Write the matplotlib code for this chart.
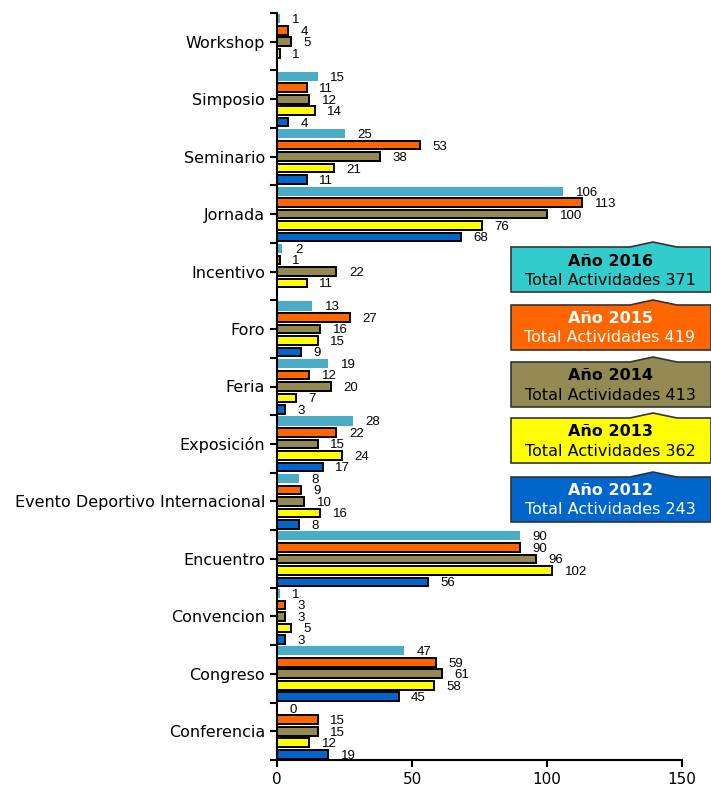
import matplotlib.pyplot as plt
import numpy as np
from matplotlib.patches import Polygon

# categorias de arriba hacia abajo
categorias = ['Workshop', 'Simposio', 'Seminario', 'Jornada', 'Incentivo', 'Foro',
              'Feria', 'Exposición', 'Evento Deportivo Internacional', 'Encuentro',
              'Convencion', 'Congreso', 'Conferencia']

anios = ['2016', '2015', '2014', '2013', '2012']
nan = np.nan
v2016 = [1, 15, 25, 106, 2, 13, 19, 28, 8, 90, 1, 47, 0]
v2015 = [4, 11, 53, 113, 1, 27, 12, 22, 9, 90, 3, 59, 15]
v2014 = [5, 12, 38, 100, 22, 16, 20, 15, 10, 96, 3, 61, 15]
v2013 = [1, 14, 21, 76, 11, 15, 7, 24, 16, 102, 5, 58, 12]
v2012 = [nan, 4, 11, 68, nan, 9, 3, 17, 8, 56, 3, 45, 19]
totales = [371, 419, 413, 362, 243]

colores = ['#4BACC6', '#FF6600', '#938953', '#FFFF00', '#0066CC']
colores_caja = ['#33CCCC', '#FF6600', '#938953', '#FFFF00', '#0066CC']
texto_caja = ['black', 'white', 'black', 'black', 'white']

fig = plt.figure(figsize=(7.11, 7.89), dpi=100)
ax = fig.add_axes([277/711, 1 - 760/789, (682-277)/711, (760-13)/789])

y = np.arange(len(categorias))
series = [v2016, v2015, v2014, v2013, v2012]
for j, vals in enumerate(series):
    pos = y + (j - 2) * 0.2
    if j == 0:
        ax.barh(pos, vals, height=0.16, color=colores[j], edgecolor='none')
    else:
        ax.barh(pos, vals, height=0.15, color=colores[j], edgecolor='black', linewidth=1.4)
    for p, v in zip(pos, vals):
        if np.isnan(v):
            continue
        ax.annotate(str(int(v)), (v, p), xytext=(9, -1), textcoords='offset points',
                    ha='left', va='center', fontsize=9.5, family='Liberation Sans')

ax.set_ylim(len(categorias) - 0.5, -0.5)
ax.set_xlim(0, 150)
ax.set_xticks([0, 50, 100, 150])
ax.set_yticks(y)
ax.set_yticklabels(categorias, fontsize=11.5)
ax.set_yticks(np.arange(-0.5, len(categorias)), minor=True)
ax.tick_params(axis='y', which='both', length=5, width=1.5)
ax.tick_params(axis='x', length=5, width=1.5, labelsize=11)
for s in ['top', 'right']:
    ax.spines[s].set_visible(False)
ax.spines['left'].set_linewidth(1.5)
ax.spines['bottom'].set_linewidth(1.5)

# cajas de totales
tops = [247, 305, 362, 418, 477]
for j in range(5):
    t = tops[j]
    b = t + 45
    pts = [(511, b), (511, t), (630, t), (653, t - 5), (677, t), (711, t), (711, b)]
    pts = [(px / 711, 1 - py / 789) for px, py in pts]
    fig.patches.append(Polygon(pts, closed=True, facecolor=colores_caja[j],
                               edgecolor='#333333', linewidth=1.2,
                               transform=fig.transFigure, figure=fig))
    cx = 610 / 711
    fig.text(cx, 1 - (t + 14) / 789, 'Año ' + anios[j], ha='center', va='center',
             fontsize=11.5, fontweight='bold', color=texto_caja[j])
    fig.text(cx, 1 - (t + 33) / 789, 'Total Actividades ' + str(totales[j]), ha='center',
             va='center', fontsize=11.5, color=texto_caja[j])

fig.savefig('out.png', dpi=100)
